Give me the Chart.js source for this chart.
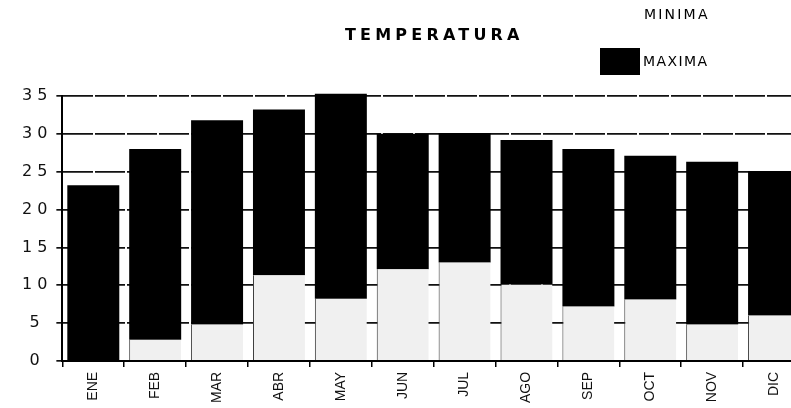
<!DOCTYPE html>
<html><head><meta charset="utf-8">
<script src="https://cdn.jsdelivr.net/npm/chart.js@4"></script>
<style>
html,body{margin:0;padding:0;background:#fff;overflow:hidden;}
#wrap{position:relative;width:791px;height:408px;overflow:hidden;}
#box{position:absolute;left:0;top:0;width:815px;height:408px;}
.t{position:absolute;font-family:"DejaVu Sans",sans-serif;color:#000;white-space:nowrap;}
</style></head><body>
<div id="wrap">
  <div id="box"><canvas id="chart"></canvas></div>
  <div class="t" style="left:345px;top:25px;font-size:16px;font-weight:bold;letter-spacing:4.2px">TEMPERATURA</div>
  <div class="t" style="left:644px;top:6px;font-size:14px;letter-spacing:2.2px">MINIMA</div>
  <div style="position:absolute;left:600px;top:48px;width:40px;height:27px;background:#000"></div>
  <div class="t" style="left:643px;top:53px;font-size:14px;letter-spacing:1.4px">MAXIMA</div>
</div>
<script>
const months = ["ENE","FEB","MAR","ABR","MAY","JUN","JUL","AGO","SEP","OCT","NOV","DIC"];
const minima = [0, 2.8, 4.8, 11.3, 8.2, 12.1, 13.0, 10.1, 7.2, 8.1, 4.8, 6.0];
const maxima = [23.2, 28.0, 31.8, 33.2, 35.3, 30.0, 30.1, 29.2, 28.0, 27.1, 26.3, 25.1];
const yTicks = [0, 5, 10, 15, 20, 25, 30, 35];

const font = "'Liberation Sans', Arial, sans-serif";

// spaced-out tick text like the scanned original
function spaceLabels(spacing) {
  return scale => {
    if (scale._spaced) return;
    const orig = scale.drawLabels.bind(scale);
    scale.drawLabels = function (area) {
      const ctx = this.ctx;
      const prev = ctx.letterSpacing;
      ctx.letterSpacing = spacing;
      orig(area);
      ctx.letterSpacing = prev;
    };
    scale._spaced = true;
  };
}

new Chart(document.getElementById("chart"), {
  type: "bar",
  data: {
    labels: months,
    datasets: [
      {
        label: "MINIMA",
        data: minima,
        backgroundColor: "#f0f0f0",
        borderColor: "#333",
        borderWidth: {left: 1, right: 0, top: 0, bottom: 0},
        borderSkipped: false,
        grouped: false,
        barPercentage: 0.84,
        categoryPercentage: 1
      },
      {
        label: "MAXIMA",
        data: months.map((m, i) => [minima[i], maxima[i]]),
        backgroundColor: "#000",
        grouped: false,
        clip: false,
        barPercentage: 0.84,
        categoryPercentage: 1
      }
    ]
  },
  options: {
    responsive: true,
    maintainAspectRatio: false,
    animation: false,
    layout: { padding: { top: 96, right: 10, left: 18, bottom: 0 } },
    plugins: { legend: { display: false }, tooltip: { enabled: false } },
    scales: {
      x: {
        offset: true,
        grid: { display: true, offset: true, drawOnChartArea: false, drawTicks: true, tickLength: 6, color: "#000", lineWidth: 1.5 },
        border: { color: "#000", width: 2 },
        ticks: { minRotation: 90, maxRotation: 90, color: "#111", padding: 5, font: { family: font, size: 14 } }
      },
      y: {
        min: 0,
        max: 35,
        afterBuildTicks: axis => { axis.ticks = yTicks.map(v => ({ value: v })); },
        afterUpdate: spaceLabels("5px"),
        grid: { color: "#111", lineWidth: 1.7, tickLength: 6 },
        border: { color: "#000", width: 2, dash: [30, 2] },
        ticks: { color: "#111", padding: 9, crossAlign: "center", font: { family: "'DejaVu Sans', sans-serif", size: 16 } }
      }
    }
  }
});
</script>
</body></html>
